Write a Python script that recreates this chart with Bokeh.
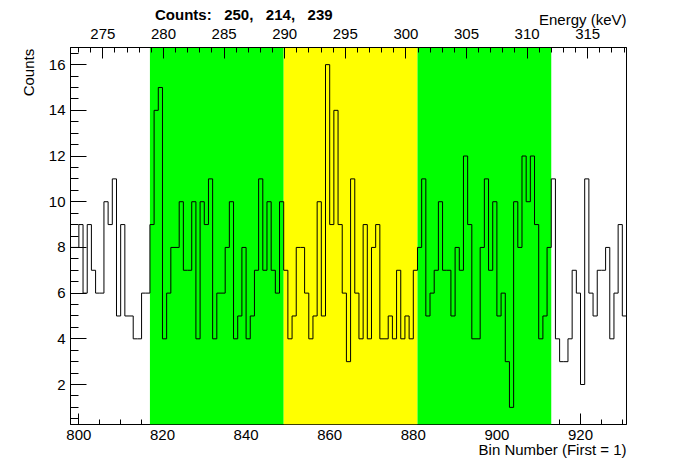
import math
import numpy as np
from bokeh.plotting import figure
from bokeh.models import Range1d, LinearAxis, SingleIntervalTicker, BoxAnnotation
from bokeh.core.properties import value
from bokeh.embed import file_html
from bokeh.resources import INLINE

# ---- data ----
first_bin = 798
counts = [
    8, 8, 9, 6, 9, 7, 6, 6, 10, 9, 11, 5, 9, 5, 5, 4, 4, 6, 6,            # 798-816
    9, 14, 15, 4, 6, 8, 8, 10, 7, 7, 10, 4, 10, 9, 11, 4,                  # 817-832
    6, 6, 8, 10, 4, 5, 8, 4, 5, 7, 11, 7, 10, 7, 6, 10,                    # 833-848
    7, 4, 5, 8, 8, 6, 4, 5, 10, 5, 16, 9, 14, 9, 6, 3,                     # 849-864
    11, 6, 4, 9, 4, 8, 9, 4, 4, 5, 4, 7, 4, 5, 4, 7,                       # 865-880
    8, 11, 5, 6, 7, 10, 7, 7, 5, 8, 7, 12, 9, 4, 4, 8,                     # 881-896
    11, 7, 10, 5, 6, 3, 1, 10, 8, 12, 10, 12, 9, 4, 5, 8,                  # 897-912
    11, 4, 3, 3, 4, 7, 6, 2, 11, 6, 5, 7, 7, 8, 4, 6, 9, 5,                # 913-930
]
region_left = [817, 849, 881]
region_right = [849, 881, 913]
region_colors = ["#00ff00", "#ffff00", "#00ff00"]
region_counts = [250, 214, 239]

x_lo, x_hi = 798, 931
y_lo, y_hi = 0.25, 16.75
e_lo, e_hi = 272.33, 318.2

FONT = "Liberation Sans"
FS = "15px"

W, H = 688, 464
BL, BR, BT, BB = 70, 62, 47, 40
FW, FH = W - BL - BR, H - BT - BB

bins = np.arange(first_bin, first_bin + len(counts))
edges = np.append(bins, bins[-1] + 1)
step_y = np.append(counts, counts[-1])

p = figure(width=W, height=H, output_backend="svg", toolbar_location=None,
           x_range=Range1d(x_lo, x_hi), y_range=Range1d(y_lo, y_hi),
           min_border_left=BL, min_border_right=BR, min_border_top=BT, min_border_bottom=BB)
p.background_fill_color = "white"
p.border_fill_color = "white"
p.outline_line_color = "black"
p.outline_line_width = 1
p.grid.visible = False

# coloured regions (cover the bottom-axis ticks, like the reference)
for l, r, c in zip(region_left, region_right, region_colors):
    p.add_layout(BoxAnnotation(left=l, right=r, fill_color=c, fill_alpha=1.0,
                               line_color=None, level="annotation"))

# histogram
hist = p.step(edges, step_y, mode="after", line_color="black", line_width=1)
hist.level = "overlay"

def style_axis(ax, major_in, minor_in):
    ax.major_tick_in = major_in
    ax.major_tick_out = 0
    ax.minor_tick_in = minor_in
    ax.minor_tick_out = 0
    ax.major_tick_line_color = "black"
    ax.minor_tick_line_color = "black"
    ax.axis_line_color = "black"
    ax.major_label_text_font = FONT
    ax.major_label_text_font_size = FS
    ax.major_label_text_color = "black"

xa = p.xaxis[0]
xa.ticker = SingleIntervalTicker(interval=20, num_minor_ticks=4)
style_axis(xa, 11, 5)
xa.major_label_standoff = 5

ya = p.yaxis[0]
ya.ticker = SingleIntervalTicker(interval=2, num_minor_ticks=4)
style_axis(ya, 16, 8)
ya.major_label_standoff = 5

p.extra_x_ranges = {"energy": Range1d(e_lo, e_hi)}
top = LinearAxis(x_range_name="energy",
                 ticker=SingleIntervalTicker(interval=5, num_minor_ticks=5))
style_axis(top, 11, 5)
top.major_label_standoff = 9
top.level = "overlay"
p.add_layout(top, "above")

# texts, placed by pixel offsets from the frame corners
dx = (x_hi - x_lo) / FW
dy = (y_hi - y_lo) / FH

def put(x, y, txt, align, bold=False, angle=0.0):
    r = p.text(x=[x], y=[y], text=[txt], text_font=value(FONT), text_font_size=FS,
               text_font_style="bold" if bold else "normal", text_align=align,
               text_baseline="alphabetic", text_color="black", angle=angle)
    r.level = "overlay"
    return r

gap = "\u00a0" * 3
title_txt = "Counts:" + gap + ("," + gap).join(str(c) for c in region_counts)
put(x_lo + 84.5 * dx, y_hi + 33.3 * dy, title_txt, "left", bold=True)
put(x_hi, y_hi + 28 * dy, "Energy (keV)", "right")
put(x_hi, y_lo - 25 * dy, "Bin Number (First = 1)", "right")
put(x_lo - 42 * dx, y_hi - 1.3 * dy, "Counts", "right", angle=math.pi / 2)

open("out.html", "w").write(file_html(p, INLINE))
